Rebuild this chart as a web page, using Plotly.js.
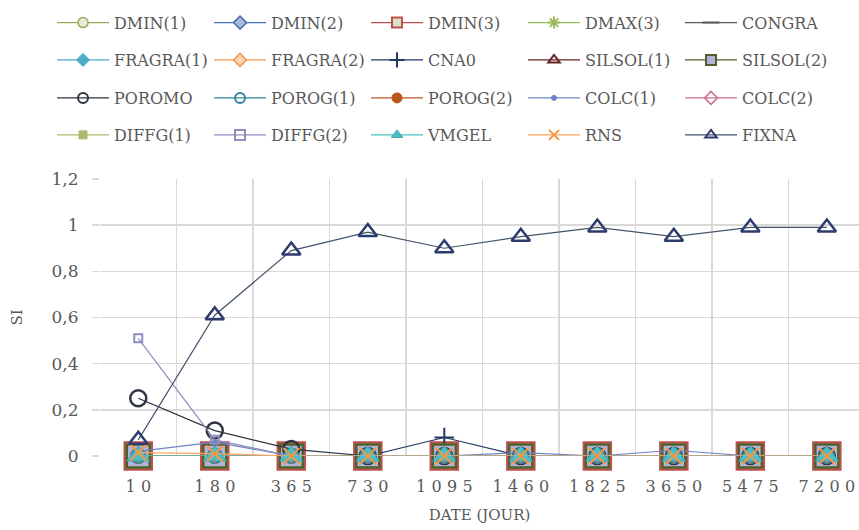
<!DOCTYPE html>
<html>
<head>
<meta charset="utf-8">
<script src="https://cdn.plot.ly/plotly-3.0.1.min.js"></script>
<style>html,body{margin:0;padding:0;background:#fff;overflow:hidden}</style>
</head>
<body>
<div id="chart" style="width:859px;height:530px"></div>
<script>
// ---- data ----
const categories = ['10','180','365','730','1095','1460','1825','3650','5475','7200'];
const tickLabels = categories.map(c => c.split('').join('\u2004'));
const seriesNames = ['DMIN(1)','DMIN(2)','DMIN(3)','DMAX(3)','CONGRA','FRAGRA(1)','FRAGRA(2)','CNA0','SILSOL(1)','SILSOL(2)','POROMO','POROG(1)','POROG(2)','COLC(1)','COLC(2)','DIFFG(1)','DIFFG(2)','VMGEL','RNS','FIXNA'];
const DMIN_1   = [0,0,0,0,0,0,0,0,0,0];
const DMIN_2   = [0,0,0,0,0,0,0,0,0,0];
const DMIN_3   = [0,0,0,0,0,0,0,0,0,0];
const DMAX_3   = [0,0,0,0,0,0,0,0,0,0];
const CONGRA   = [0,0,0,0,0,0,0,0,0,0];
const FRAGRA_1 = [0,0,0,0,0,0,0,0,0,0];
const FRAGRA_2 = [0,0,0,0,0,0,0,0,0,0];
const CNA0     = [0,0,0,0,0.08,0,0,0,0,0];
const SILSOL_1 = [0,0,0,0,0,0,0,0,0,0];
const SILSOL_2 = [0,0,0,0,0,0,0,0,0,0];
const POROMO   = [0.25,0.11,0.03,0,0,0,0,0,0,0];
const POROG_1  = [0,0,0,0,0,0,0,0,0,0];
const POROG_2  = [0,0,0,0,0,0,0,0,0,0];
const COLC_1   = [0.02,0.06,0,0,0,0.015,0,0.025,0,0];
const COLC_2   = [0,0,0,0,0,0,0,0,0,0];
const DIFFG_1  = [0,0,0,0,0,0,0,0,0,0];
const DIFFG_2  = [0.51,0.07,0,0,0,0,0,0,0,0];
const VMGEL    = [0,0,0,0,0,0,0,0,0,0];
const RNS      = [0.015,0.01,0,0,0,0,0,0,0,0];
const FIXNA    = [0.07,0.61,0.89,0.97,0.90,0.95,0.99,0.95,0.99,0.99];
const seriesValues = [DMIN_1,DMIN_2,DMIN_3,DMAX_3,CONGRA,FRAGRA_1,FRAGRA_2,CNA0,SILSOL_1,SILSOL_2,POROMO,POROG_1,POROG_2,COLC_1,COLC_2,DIFFG_1,DIFFG_2,VMGEL,RNS,FIXNA];

// ---- styles ----
const styles = [
  {line:'#9BAA5A', sym:'circle',        size:14, fill:'#E6EBD6', mline:'#9BAA5A', mw:1.5, lsize:10},
  {line:'#4472C4', sym:'diamond',       size:16, fill:'#A9BCD9', mline:'#4F6FA8', mw:1.5, lsize:10},
  {line:'#C0504D', sym:'square',        size:27, fill:'#D9E1C9', mline:'#C0504D', mw:2.5, lsize:10},
  {line:'#9BBB59', sym:'asterisk-open', size:10, fill:'#9BBB59', mline:'#9BBB59', mw:2,   lsize:10},
  {line:'#595959', sym:'line-ew-open',  size:12, fill:'#595959', mline:'#595959', mw:4,   lsize:12},
  {line:'#4BACC6', sym:'diamond',       size:20, fill:'#4BACC6', mline:'#4BACC6', mw:1,   lsize:10},
  {line:'#F79646', sym:'diamond',       size:16, fill:'#FCD5B4', mline:'#F79646', mw:1.5, lsize:10},
  {line:'#1F3864', sym:'cross-thin-open',size:14,fill:'#1F3864', mline:'#1F3864', mw:2,   lsize:11},
  {line:'#632523', sym:'triangle-up-open',size:14,fill:'#632523',mline:'#632523', mw:2,   lsize:10},
  {line:'#4F6228', sym:'square',        size:23, fill:'#B3B3D9', mline:'#4F6228', mw:2.5, lsize:10},
  {line:'#2E3440', sym:'circle-open',   size:16, fill:'#2E3440', mline:'#2E3440', mw:2.5, lsize:10},
  {line:'#31859C', sym:'circle-open',   size:14, fill:'#31859C', mline:'#31859C', mw:2.5, lsize:10},
  {line:'#C0581E', sym:'circle',        size:12, fill:'#B8561C', mline:'#B8561C', mw:1,   lsize:10},
  {line:'#6F83C7', sym:'circle',        size:5,  fill:'#6F83C7', mline:'#6F83C7', mw:1,   lsize:5},
  {line:'#C9728A', sym:'diamond-open',  size:10, fill:'#C9728A', mline:'#C9728A', mw:1.5, lsize:10},
  {line:'#AABB70', sym:'square',        size:8,  fill:'#AABB70', mline:'#AABB70', mw:1,   lsize:8},
  {line:'#8E8CC0', sym:'square-open',   size:8,  fill:'#8E8CC0', mline:'#8E8CC0', mw:2,   lsize:10},
  {line:'#4BBFC6', sym:'triangle-up',   size:20, fill:'#4BBFC6', mline:'#3FA9B0', mw:1,   lsize:10},
  {line:'#F9A55F', sym:'x-thin-open',   size:16, fill:'#F79646', mline:'#F79646', mw:2,   lsize:10},
  {line:'#44546A', sym:'triangle-up-open',size:16,fill:'#2E3B6E',mline:'#2E3B6E', mw:2.5, lsize:10}
];

const xIdx = categories.map((c,i)=>i);
const traces = [];
seriesValues.forEach((vals,i)=>{
  const s = styles[i];
  traces.push({
    type:'scatter', mode:'lines+markers', name:seriesNames[i], x:xIdx, y:vals,
    showlegend:false, cliponaxis:false, hoverinfo:'skip',
    line:{color:s.line, width:1.2},
    marker:{symbol:s.sym, size:s.size, color:s.fill, line:{color:s.mline, width:s.mw}}
  });
});
// legend entries (small markers as in the reference legend)
seriesValues.forEach((vals,i)=>{
  const s = styles[i];
  const row = Math.floor(i/5);
  traces.push({
    type:'scatter', mode:'lines+markers', name:seriesNames[i], x:[null], y:[null],
    showlegend:true, legend: row===0?'legend':'legend'+(row+1),
    line:{color:s.line, width:1.2},
    marker:{symbol:s.sym, size:s.lsize, color:s.fill, line:{color:s.mline, width:Math.min(s.mw,2)}}
  });
});

const FONT = 'DejaVu Serif';
const GREY = '#595959';
function leg(y){
  return {orientation:'h', x:-0.0632, xanchor:'left', y:y, yanchor:'middle',
    entrywidth:90, entrywidthmode:'pixels', itemwidth:52,
    bgcolor:'rgba(0,0,0,0)', font:{family:FONT, size:16, color:GREY}};
}
const plotTop = 179, plotBot = 456, ph = plotBot-plotTop;
const py = p => (plotBot - p)/ph;

const layout = {
  width:859, height:530,
  margin:{l:100, r:0, t:plotTop, b:530-plotBot, pad:0},
  paper_bgcolor:'#ffffff', plot_bgcolor:'#ffffff',
  separators:', ',
  font:{family:FONT, color:GREY},
  xaxis:{
    range:[-0.5, 9.42], tickmode:'array', tickvals:xIdx, ticktext:tickLabels,
    showgrid:false, zeroline:false, showline:false, ticks:'',
    tickfont:{family:FONT, size:16, color:GREY}, ticklabelstandoff:19,
    minor:{tickmode:'linear', tick0:-0.5, dtick:1, showgrid:true, gridcolor:'#D9D9D9', gridwidth:1.5, ticks:''},
    title:{text:'DATE (JOUR)', font:{family:FONT, size:15, color:GREY}, standoff:14}
  },
  yaxis:{
    range:[0,1.2], dtick:0.2, tick0:0, showgrid:true, gridcolor:'#D9D9D9', gridwidth:1.5,
    zeroline:false, showline:false, ticks:'outside', ticklen:7, tickcolor:'#D9D9D9', tickwidth:1.5,
    tickfont:{family:FONT, size:17, color:GREY}, ticklabelstandoff:10,
    title:{text:'SI', font:{family:FONT, size:15, color:GREY}, standoff:25}
  },
  legend:leg(py(22.7)),
  legend2:leg(py(60)),
  legend3:leg(py(98)),
  legend4:leg(py(135)),
  showlegend:true
};

Plotly.newPlot('chart', traces, layout, {displayModeBar:false, staticPlot:true});
</script>
</body>
</html>
